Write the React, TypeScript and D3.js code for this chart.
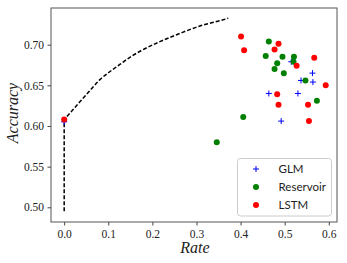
import { useEffect, useRef } from 'react'
import * as d3 from 'd3'

const glmRate = [0.0, 0.515, 0.563, 0.537, 0.564, 0.464, 0.53, 0.492]
const glmAcc = [0.605, 0.679, 0.665, 0.656, 0.654, 0.64, 0.64, 0.606]

const resRate = [0.464, 0.457, 0.495, 0.521, 0.483, 0.52, 0.477, 0.498, 0.547, 0.573, 0.406, 0.346]
const resAcc = [0.704, 0.686, 0.685, 0.685, 0.677, 0.679, 0.67, 0.665, 0.656, 0.631, 0.611, 0.58]

const lstmRate = [0.0, 0.401, 0.408, 0.486, 0.477, 0.567, 0.527, 0.593, 0.483, 0.486, 0.553, 0.555]
const lstmAcc = [0.608, 0.71, 0.693, 0.701, 0.694, 0.684, 0.674, 0.65, 0.639, 0.626, 0.626, 0.606]

// dashed bound (first two points are the vertical part)
const boundRate = [0, 0, 0.036, 0.059, 0.081, 0.104, 0.127, 0.149, 0.174, 0.217, 0.263, 0.308, 0.353, 0.372]
const boundAcc = [0.495, 0.608, 0.63, 0.644, 0.657, 0.667, 0.676, 0.6845, 0.6925, 0.7037, 0.714, 0.723, 0.7295, 0.7325]

const xTicks = [0, 0.1, 0.2, 0.3, 0.4, 0.5, 0.6]
const yTicks = [0.5, 0.55, 0.6, 0.65, 0.7]

const legendNames = ['GLM', 'Reservoir', 'LSTM']
const legendColors = ['#0000ff', '#008000', '#ff0000']

export default function App() {
  const ref = useRef<SVGSVGElement>(null)

  useEffect(() => {
    const svg = d3.select(ref.current)
    svg.selectAll('*').remove()

    const width = 347
    const height = 263
    const margin = { top: 8, right: 10, bottom: 41, left: 51 }
    const innerW = width - margin.left - margin.right
    const innerH = height - margin.top - margin.bottom

    const x = d3.scaleLinear().domain([-0.0299, 0.6186]).range([0, innerW])
    const y = d3.scaleLinear().domain([0.4819, 0.7451]).range([innerH, 0])

    const g = svg.append('g').attr('transform', `translate(${margin.left},${margin.top})`)

    const serif = '"Liberation Serif", "DejaVu Serif", serif'

    const xAxis = g.append('g')
      .attr('transform', `translate(0,${innerH})`)
      .call(d3.axisBottom(x).tickValues(xTicks).tickFormat(d3.format('.1f')).tickSizeOuter(0).tickSize(3.5).tickPadding(4))
    const yAxis = g.append('g')
      .call(d3.axisLeft(y).tickValues(yTicks).tickFormat(d3.format('.2f')).tickSizeOuter(0).tickSize(3.5).tickPadding(3.5))
    for (const ax of [xAxis, yAxis]) {
      ax.select('.domain').remove()
      ax.selectAll('line').attr('stroke', '#444')
      ax.selectAll('text').attr('font-family', serif).attr('font-size', 11.5).attr('fill', '#222')
    }

    // dashed bound: straight vertical piece, then a smooth curve
    const pts = boundRate.map((r, i) => [x(r), y(boundAcc[i])] as [number, number])
    const vertical = d3.line()(pts.slice(0, 2)) ?? ''
    const curve = d3.line().curve(d3.curveMonotoneX)(pts.slice(1)) ?? ''
    g.append('path')
      .attr('d', vertical + 'L' + curve.slice(1))
      .attr('fill', 'none')
      .attr('stroke', '#000')
      .attr('stroke-width', 1.5)
      .attr('stroke-dasharray', '4,2')

    // GLM crosses
    const glm = g.append('g').attr('stroke', legendColors[0]).attr('stroke-width', 1)
    glmRate.forEach((r, i) => {
      const cx = x(r), cy = y(glmAcc[i])
      glm.append('path').attr('d', `M${cx - 3},${cy}H${cx + 3}M${cx},${cy - 3}V${cy + 3}`)
    })

    g.append('g').selectAll('circle')
      .data(resRate.map((r, i) => [r, resAcc[i]]))
      .join('circle')
      .attr('cx', d => x(d[0]))
      .attr('cy', d => y(d[1]))
      .attr('r', 3)
      .attr('fill', legendColors[1])

    g.append('g').selectAll('circle')
      .data(lstmRate.map((r, i) => [r, lstmAcc[i]]))
      .join('circle')
      .attr('cx', d => x(d[0]))
      .attr('cy', d => y(d[1]))
      .attr('r', 3)
      .attr('fill', legendColors[2])

    // frame
    g.append('rect')
      .attr('width', innerW)
      .attr('height', innerH)
      .attr('fill', 'none')
      .attr('stroke', '#555')
      .attr('stroke-width', 1)

    // legend
    const lg = g.append('g').attr('transform', `translate(${237.5 - margin.left},${158.5 - margin.top})`)
    lg.append('rect')
      .attr('width', 94)
      .attr('height', 57.5)
      .attr('rx', 3)
      .attr('fill', '#fff')
      .attr('fill-opacity', 0.8)
      .attr('stroke', '#ccc')
    legendNames.forEach((name, i) => {
      const cy = 10.5 + i * 18
      if (i === 0) {
        lg.append('path').attr('d', `M15.5,${cy}H21.5M18.5,${cy - 3}V${cy + 3}`).attr('stroke', legendColors[0])
      } else {
        lg.append('circle').attr('cx', 18.5).attr('cy', cy).attr('r', 3).attr('fill', legendColors[i])
      }
      lg.append('text')
        .attr('x', 41)
        .attr('y', cy + 4.2)
        .attr('font-family', 'Lato, sans-serif')
        .attr('font-size', 11.5)
        .attr('fill', '#222')
        .text(name)
    })

    // axis labels
    svg.append('text')
      .attr('x', 195)
      .attr('y', 253)
      .attr('text-anchor', 'middle')
      .attr('font-family', serif)
      .attr('font-style', 'italic')
      .attr('font-size', 16)
      .attr('fill', '#222')
      .text('Rate')
    svg.append('text')
      .attr('transform', 'translate(18,113) rotate(-90)')
      .attr('text-anchor', 'middle')
      .attr('font-family', serif)
      .attr('font-style', 'italic')
      .attr('font-size', 16)
      .attr('fill', '#222')
      .text('Accuracy')
  }, [])

  return (
    <svg ref={ref} width={347} height={263} style={{ position: 'absolute', left: 0, top: 0, background: '#fff' }} />
  )
}
